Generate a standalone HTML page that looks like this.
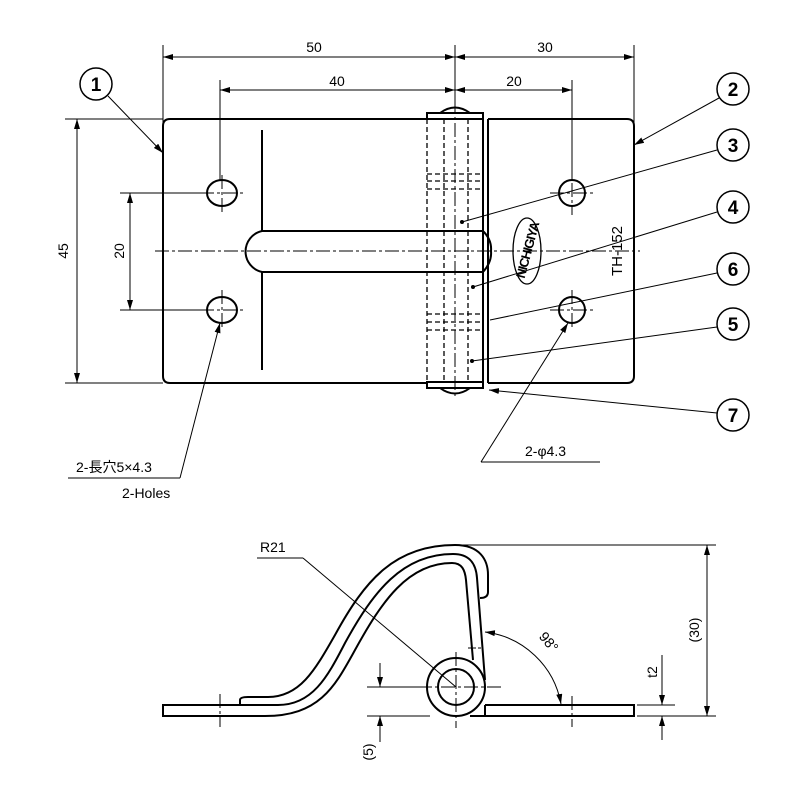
<!DOCTYPE html>
<html><head><meta charset="utf-8"><style>
html,body{margin:0;padding:0;background:#fff;}
svg{display:block;}
text{font-family:"Liberation Sans","Noto Sans CJK JP",sans-serif;fill:#000;}
</style></head><body>
<svg width="800" height="800" viewBox="0 0 800 800" xmlns="http://www.w3.org/2000/svg">
<defs>
<marker id="a" viewBox="0 0 10 6" refX="10" refY="3" markerWidth="10" markerHeight="6" orient="auto-start-reverse" markerUnits="userSpaceOnUse"><path d="M0,0 L10,3 L0,6 z" fill="#000"/></marker>
</defs>
<g fill="none" stroke="#000" stroke-width="1">
<line x1="163" y1="45" x2="163" y2="150"/>
<line x1="455" y1="45" x2="455" y2="113"/>
<line x1="634" y1="45" x2="634" y2="140"/>
<line x1="220" y1="80" x2="220" y2="180"/>
<line x1="572" y1="80" x2="572" y2="180"/>
<line x1="65" y1="119" x2="163" y2="119"/>
<line x1="65" y1="383" x2="163" y2="383"/>
<line x1="120" y1="193" x2="205" y2="193"/>
<line x1="120" y1="310" x2="205" y2="310"/>
<line x1="163" y1="57" x2="455" y2="57" marker-start="url(#a)" marker-end="url(#a)"/>
<line x1="455" y1="57" x2="634" y2="57" marker-start="url(#a)" marker-end="url(#a)"/>
<line x1="220" y1="90" x2="455" y2="90" marker-start="url(#a)" marker-end="url(#a)"/>
<line x1="455" y1="90" x2="572" y2="90" marker-start="url(#a)" marker-end="url(#a)"/>
<line x1="77" y1="119" x2="77" y2="383" marker-start="url(#a)" marker-end="url(#a)"/>
<line x1="130" y1="193" x2="130" y2="310" marker-start="url(#a)" marker-end="url(#a)"/>
</g>
<g font-size="14">
<text x="314" y="52" text-anchor="middle">50</text>
<text x="545" y="52" text-anchor="middle">30</text>
<text x="337" y="86" text-anchor="middle">40</text>
<text x="514" y="86" text-anchor="middle">20</text>
<text transform="translate(68,251) rotate(-90)" text-anchor="middle">45</text>
<text transform="translate(124,251) rotate(-90)" text-anchor="middle">20</text>
</g>
<g fill="none" stroke="#000" stroke-width="2">
<path d="M427 119 L170 119 Q163 119 163 126 L163 376 Q163 383 170 383 L427 383"/>
<path d="M488 119 L627 119 Q634 119 634 126 L634 376 Q634 383 627 383 L488 383"/>
<line x1="262" y1="130" x2="262" y2="231"/>
<line x1="262" y1="272" x2="262" y2="370"/>
<path d="M483 231 L262 231 A21 21 0 0 0 262 272 L483 272"/>
<path d="M483 231 Q492 240 491 251 Q492 262 483 272" />
<ellipse cx="222" cy="193" rx="15" ry="13"/>
<ellipse cx="222" cy="310" rx="15" ry="13"/>
<circle cx="572" cy="193" r="13"/>
<circle cx="572" cy="310" r="13"/>
<rect x="427" y="113" width="56" height="6"/>
<rect x="427" y="382" width="56" height="6"/>
<path d="M440 113 Q455 102 470 113"/>
<path d="M440 388 Q455 399 470 388"/>
<line x1="483" y1="119" x2="483" y2="382"/>
<line x1="488" y1="119" x2="488" y2="383"/>
</g>
<g fill="none" stroke="#000" stroke-width="1.3" stroke-dasharray="5,3">
<line x1="427" y1="119" x2="427" y2="382"/>
<line x1="444" y1="119" x2="444" y2="382"/>
<line x1="468" y1="119" x2="468" y2="382"/>
<line x1="427" y1="174" x2="483" y2="174"/>
<line x1="427" y1="181" x2="483" y2="181"/>
<line x1="427" y1="189" x2="483" y2="189"/>
<line x1="427" y1="314" x2="483" y2="314"/>
<line x1="427" y1="322" x2="483" y2="322"/>
<line x1="427" y1="330" x2="483" y2="330"/>
</g>
<g fill="none" stroke="#000" stroke-width="1" stroke-dasharray="14,3,3,3">
<line x1="155" y1="251" x2="640" y2="251"/>
<line x1="455" y1="100" x2="455" y2="398"/>
<line x1="200" y1="193" x2="245" y2="193"/>
<line x1="200" y1="310" x2="245" y2="310"/>
<line x1="550" y1="193" x2="595" y2="193"/>
<line x1="550" y1="310" x2="595" y2="310"/>
<line x1="572" y1="160" x2="572" y2="215"/>
<line x1="572" y1="290" x2="572" y2="330"/>
<line x1="222" y1="175" x2="222" y2="212"/>
<line x1="222" y1="290" x2="222" y2="328"/>
</g>
<ellipse cx="527" cy="251" rx="14" ry="33" fill="none" stroke="#000" stroke-width="1.3"/>
<text transform="translate(532,251) rotate(-75)" text-anchor="middle" font-size="13" font-weight="bold" textLength="58">NICHIGIYA</text>
<text transform="translate(622,251) rotate(-90)" text-anchor="middle" font-size="15">TH-152</text>
<g fill="#fff" stroke="#000" stroke-width="1.5">
<circle cx="96" cy="84" r="16"/>
<circle cx="733" cy="89" r="16"/>
<circle cx="733" cy="145" r="16"/>
<circle cx="733" cy="207" r="16"/>
<circle cx="733" cy="269" r="16"/>
<circle cx="733" cy="324" r="16"/>
<circle cx="733" cy="415" r="16"/>
</g>
<g font-size="19" font-weight="bold" text-anchor="middle">
<text x="96" y="91">1</text><text x="733" y="96">2</text><text x="733" y="152">3</text>
<text x="733" y="214">4</text><text x="733" y="276">6</text><text x="733" y="331">5</text><text x="733" y="422">7</text>
</g>
<g fill="none" stroke="#000" stroke-width="1">
<line x1="108" y1="96" x2="163" y2="153" marker-end="url(#a)"/>
<line x1="719" y1="98" x2="634" y2="145" marker-end="url(#a)"/>
<line x1="717" y1="150" x2="462" y2="222"/>
<line x1="717" y1="212" x2="473" y2="287"/>
<line x1="717" y1="273" x2="490" y2="320"/>
<line x1="717" y1="327" x2="472" y2="361"/>
<line x1="717" y1="413" x2="489" y2="390" marker-end="url(#a)"/>
<line x1="68" y1="478" x2="180" y2="478"/>
<line x1="180" y1="478" x2="220" y2="323" marker-end="url(#a)"/>
<line x1="481" y1="462" x2="600" y2="462"/>
<line x1="481" y1="462" x2="568" y2="323" marker-end="url(#a)"/>
</g>
<g fill="#000"><circle cx="462" cy="222" r="2"/><circle cx="473" cy="287" r="2"/><circle cx="472" cy="361" r="2"/></g>
<g font-size="14">
<text x="76" y="472">2-長穴5×4.3</text>
<text x="122" y="498">2-Holes</text>
<text x="525" y="456">2-φ4.3</text>
</g>
<!-- side view -->
<g fill="none" stroke="#000" stroke-width="2">
<path d="M278 705 L163 705 L163 716 L265 716"/>
<path d="M240 705 L240 700 Q240 697 248 697 L268 697 C300 697 315 670 335 635 C365 580 395 545 455 545 C480 545 488 560 488 575 L488 592 Q488 598 480 598"/>
<path d="M278 705 C312 705 327 678 345 643 C373 592 402 554 453 554 C470 554 476 564 477 578 L485 680"/>
<path d="M265 716 C320 716 335 686 355 650 C382 601 408 563 452 563 C462 563 465 570 466 580 L473 660"/>
<circle cx="456" cy="687" r="29"/>
<circle cx="456" cy="687" r="18"/>
<path d="M470 716 L634 716 L634 705 L485 705"/>
<line x1="485" y1="705" x2="485" y2="716"/>
</g>
<g fill="none" stroke="#000" stroke-width="1">
<line x1="468" y1="648" x2="481" y2="648" stroke-dasharray="3,2"/>
<g stroke-dasharray="14,3,3,3">
<line x1="456" y1="652" x2="456" y2="728"/>
<line x1="418" y1="687" x2="502" y2="687"/>
<line x1="220" y1="694" x2="220" y2="727"/>
<line x1="572" y1="696" x2="572" y2="727"/>
</g>
<line x1="460" y1="545" x2="716" y2="545"/>
<line x1="637" y1="716" x2="716" y2="716"/>
<line x1="637" y1="705" x2="675" y2="705"/>
<line x1="707" y1="545" x2="707" y2="716" marker-start="url(#a)" marker-end="url(#a)"/>
<line x1="662" y1="655" x2="662" y2="705" marker-end="url(#a)"/>
<line x1="662" y1="740" x2="662" y2="716" marker-end="url(#a)"/>
<line x1="367" y1="687" x2="430" y2="687"/>
<line x1="367" y1="716" x2="430" y2="716"/>
<line x1="380" y1="663" x2="380" y2="687" marker-end="url(#a)"/>
<line x1="380" y1="742" x2="380" y2="716" marker-end="url(#a)"/>
<line x1="257" y1="558" x2="303" y2="558"/>
<line x1="303" y1="558" x2="456" y2="687"/>
<path d="M485 632 A88 88 0 0 1 561 704" marker-start="url(#a)" marker-end="url(#a)"/>
</g>
<g font-size="14">
<text x="260" y="552">R21</text>
<text transform="translate(699,630) rotate(-90)" text-anchor="middle">(30)</text>
<text transform="translate(657,672) rotate(-90)" text-anchor="middle">t2</text>
<text transform="translate(373,752) rotate(-90)" text-anchor="middle">(5)</text>
<text transform="translate(545,645) rotate(50)" text-anchor="middle">98°</text>
</g>
</svg>
</body></html>
